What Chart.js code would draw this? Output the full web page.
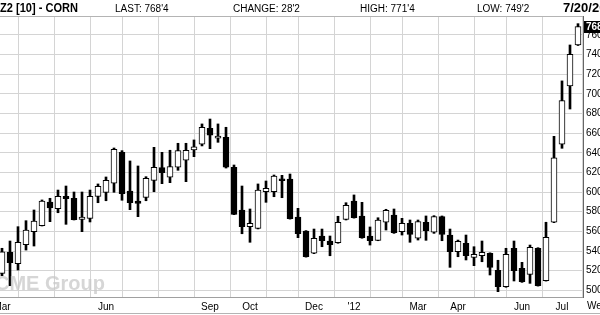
<!DOCTYPE html>
<html>
<head>
<meta charset="utf-8">
<script src="https://cdn.jsdelivr.net/npm/chart.js@4.4.0/dist/chart.umd.min.js"></script>
<style>
  html, body { margin: 0; padding: 0; background: #fff; }
  #wrap { width: 600px; height: 315px; }
</style>
</head>
<body>
<div id="wrap"><canvas id="graph"></canvas></div>
<script>
// weekly bars, week starting
const weeks = [
  "2011-02-28", "2011-03-07", "2011-03-14", "2011-03-21", "2011-03-28", "2011-04-04", "2011-04-11", "2011-04-18",
  "2011-04-25", "2011-05-02", "2011-05-09", "2011-05-16", "2011-05-23", "2011-05-30", "2011-06-06", "2011-06-13",
  "2011-06-20", "2011-06-27", "2011-07-04", "2011-07-11", "2011-07-18", "2011-07-25", "2011-08-01", "2011-08-08",
  "2011-08-15", "2011-08-22", "2011-08-29", "2011-09-05", "2011-09-12", "2011-09-19", "2011-09-26", "2011-10-03",
  "2011-10-10", "2011-10-17", "2011-10-24", "2011-10-31", "2011-11-07", "2011-11-14", "2011-11-21", "2011-11-28",
  "2011-12-05", "2011-12-12", "2011-12-19", "2011-12-26", "2012-01-02", "2012-01-09", "2012-01-16", "2012-01-23",
  "2012-01-30", "2012-02-06", "2012-02-13", "2012-02-20", "2012-02-27", "2012-03-05", "2012-03-12", "2012-03-19",
  "2012-03-26", "2012-04-02", "2012-04-09", "2012-04-16", "2012-04-23", "2012-04-30", "2012-05-07", "2012-05-14",
  "2012-05-21", "2012-05-28", "2012-06-04", "2012-06-11", "2012-06-18", "2012-06-25", "2012-07-02", "2012-07-09",
  "2012-07-16"
];
const opens = [
  517.3, 538.7, 527.1, 546.4, 559.7, 565.8, 589.9, 583.1, 595.7, 593.7, 572.3, 573.3, 595.7, 599.8, 609.0, 640.5,
  601.1, 590.9, 594.7, 612.0, 624.9, 615.1, 625.3, 632.4, 642.9, 648.7, 665.0, 654.8, 655.8, 625.3, 581.8, 564.8,
  563.1, 600.4, 600.4, 613.3, 613.3, 574.6, 560.4, 537.7, 555.3, 550.2, 548.5, 572.3, 590.9, 575.7, 555.3, 550.9,
  569.3, 576.7, 559.7, 568.2, 553.0, 569.3, 559.1, 575.0, 556.3, 539.3, 547.9, 533.6, 535.2, 537.7, 520.4, 503.7,
  542.8, 522.4, 516.3, 542.8, 509.8, 569.3, 648.7, 708.1, 749.8
];
const highs = [
  542.8, 550.2, 564.8, 570.9, 581.8, 592.0, 593.7, 602.1, 606.2, 600.1, 600.1, 602.1, 608.3, 615.4, 644.9, 642.2,
  631.7, 626.6, 615.7, 645.6, 640.5, 642.6, 649.7, 649.7, 653.1, 669.4, 674.4, 669.4, 666.0, 627.6, 606.2, 582.8,
  608.3, 611.3, 617.4, 617.1, 618.4, 583.5, 560.8, 562.4, 562.4, 555.3, 575.4, 589.2, 597.1, 589.6, 564.5, 573.9,
  582.5, 582.8, 573.3, 571.6, 571.6, 575.7, 576.0, 575.7, 562.4, 551.2, 556.3, 544.4, 550.2, 538.2, 530.6, 542.8,
  550.2, 528.5, 546.1, 543.4, 569.3, 656.8, 713.2, 749.8, 771.5
];
const lows = [
  514.9, 504.7, 520.7, 541.0, 545.1, 565.5, 569.9, 579.0, 567.2, 571.6, 559.7, 569.6, 589.2, 591.2, 599.8, 591.7,
  582.1, 575.0, 591.2, 600.4, 608.6, 609.6, 622.2, 610.6, 636.1, 647.0, 644.2, 650.7, 624.5, 577.0, 557.6, 548.9,
  562.5, 589.6, 595.3, 594.3, 572.5, 553.6, 533.8, 537.3, 544.4, 535.2, 547.9, 571.6, 573.5, 553.0, 546.1, 550.5,
  561.4, 558.0, 556.3, 548.9, 551.2, 550.9, 558.0, 550.5, 523.4, 534.2, 530.9, 525.1, 529.1, 515.6, 498.6, 503.1,
  509.5, 508.1, 507.1, 504.3, 509.4, 568.9, 644.6, 684.6, 749.25
];
const closes = [
  539.3, 528.1, 548.9, 561.4, 570.6, 590.9, 583.8, 595.7, 593.3, 571.9, 574.6, 595.7, 605.9, 612.0, 643.6, 598.4,
  589.2, 588.6, 614.1, 625.3, 619.8, 625.9, 642.2, 642.6, 646.2, 666.0, 657.9, 657.1, 625.3, 577.4, 564.8, 568.2,
  602.1, 603.9, 616.4, 611.6, 572.9, 557.6, 534.2, 553.0, 550.5, 546.4, 569.3, 586.6, 573.9, 553.6, 550.5, 571.6,
  581.5, 558.7, 568.2, 557.0, 569.9, 560.7, 575.0, 557.0, 539.3, 549.9, 535.2, 536.7, 538.7, 523.4, 503.7, 536.7,
  520.0, 508.8, 543.8, 504.7, 554.0, 635.0, 693.1, 740.3, 768.5
];

const yTicks = [500, 520, 540, 560, 580, 600, 620, 640, 660, 680, 700, 720, 740, 760];
// week index where each month begins, and its label ('' = grid line only)
const monthWeeks = [0, 4, 9, 13, 17, 22, 26, 31, 35, 39, 44, 48, 52, 57, 61, 65, 70];
const monthLabels = ["Mar", "", "", "Jun", "", "", "Sep", "Oct", "", "Dec", "'12", "", "Mar", "Apr", "", "Jun", "Jul"];

const title = "Z2 [10] - CORN";
const stats = ["LAST: 768'4", "CHANGE: 28'2", "HIGH: 771'4", "LOW: 749'2"];
const dateText = "7/20/2012";
const periodText = "Weekly";
const watermark = "CME Group";

const wicks = lows.map((l, i) => ({ x: i, y: [l, highs[i]] }));
const bodies = opens.map((o, i) => ({ x: i, y: [o, closes[i]] }));
const bodyFill = opens.map((o, i) => (closes[i] >= o ? "#ffffff" : "#000000"));

const extras = {
  id: "extras",
  afterDatasetsDraw(chart) {
    // watermark sits over the candles, as in the original
    const ctx = chart.ctx;
    ctx.save();
    ctx.font = "bold 20px Arial";
    ctx.fillStyle = "rgba(200, 200, 200, 0.75)";
    ctx.textBaseline = "alphabetic";
    ctx.fillText(watermark, -5, 290);
    ctx.restore();
  },
  afterDraw(chart) {
    const ctx = chart.ctx;
    const area = chart.chartArea;
    ctx.save();
    // frame lines
    ctx.strokeStyle = "#b4b4b4";
    ctx.lineWidth = 1;
    ctx.beginPath();
    ctx.moveTo(0, area.top + 0.5);
    ctx.lineTo(area.right, area.top + 0.5);
    ctx.moveTo(0, 313.5);
    ctx.lineTo(600, 313.5);
    ctx.stroke();

    // header
    ctx.fillStyle = "#000";
    ctx.textBaseline = "middle";
    ctx.font = "bold 13px Arial";
    ctx.fillText(title, 0, 8, 78);
    ctx.font = "10px Arial";
    const sx = [115, 233, 360, 477];
    stats.forEach((s, i) => ctx.fillText(s, sx[i], 9));
    ctx.font = "bold 13px Arial";
    ctx.fillText(dateText, 563, 8);

    // period label
    ctx.font = "10px Arial";
    ctx.fillText(periodText, 587, 306);

    // last price marker
    const last = closes.length - 1;
    const y = chart.scales.y.getPixelForValue(closes[last]);
    ctx.fillStyle = "#000";
    ctx.fillRect(584, Math.round(y) - 6, 16, 12);
    ctx.fillStyle = "#fff";
    ctx.font = "bold 10px Arial";
    ctx.fillText(String(Math.floor(closes[last])), 586, Math.round(y));
    ctx.restore();
  }
};

const ctx = document.getElementById("graph");
new Chart(ctx, {
  type: "bar",
  data: {
    datasets: [
      {
        label: "wick",
        data: wicks,
        backgroundColor: "#000",
        borderWidth: 0,
        barThickness: 2,
        grouped: false,
        order: 2
      },
      {
        label: "body",
        data: bodies,
        backgroundColor: bodyFill,
        borderColor: "#000",
        borderWidth: 1,
        borderSkipped: false,
        barThickness: 6,
        minBarLength: 2,
        grouped: false,
        order: 1
      }
    ]
  },
  options: {
    responsive: true,
    maintainAspectRatio: false,
    animation: false,
    layout: { padding: { top: 16, left: 0, right: 0, bottom: 0 } },
    plugins: {
      legend: { display: false },
      tooltip: { enabled: false }
    },
    scales: {
      x: {
        type: "linear",
        offset: false,
        min: -0.25,
        max: 72.625,
        afterBuildTicks: (scale) => {
          scale.ticks = monthWeeks.map((v) => ({ value: v }));
        },
        afterFit: (scale) => {
          scale.height = 18;
          scale.paddingLeft = 0;
          scale.paddingRight = 0;
        },
        grid: { color: "#d4d4d4", drawTicks: false },
        border: { color: "#a0a0a0" },
        ticks: {
          autoSkip: false,
          maxRotation: 0,
          minRotation: 0,
          padding: 4,
          color: "#000",
          font: { family: "Arial", size: 10 },
          callback: (v, i) => monthLabels[i]
        }
      },
      y: {
        position: "right",
        min: 493.2,
        max: 779.3,
        afterBuildTicks: (scale) => {
          scale.ticks = yTicks.map((v) => ({ value: v }));
        },
        afterFit: (scale) => {
          scale.width = 17;
          scale.paddingTop = 0;
          scale.paddingBottom = 0;
        },
        grid: { color: "#d4d4d4", drawTicks: false },
        border: { color: "#666" },
        ticks: {
          padding: 3,
          color: "#000",
          font: { family: "Arial", size: 10 }
        }
      }
    }
  },
  plugins: [extras]
});
</script>
</body>
</html>
